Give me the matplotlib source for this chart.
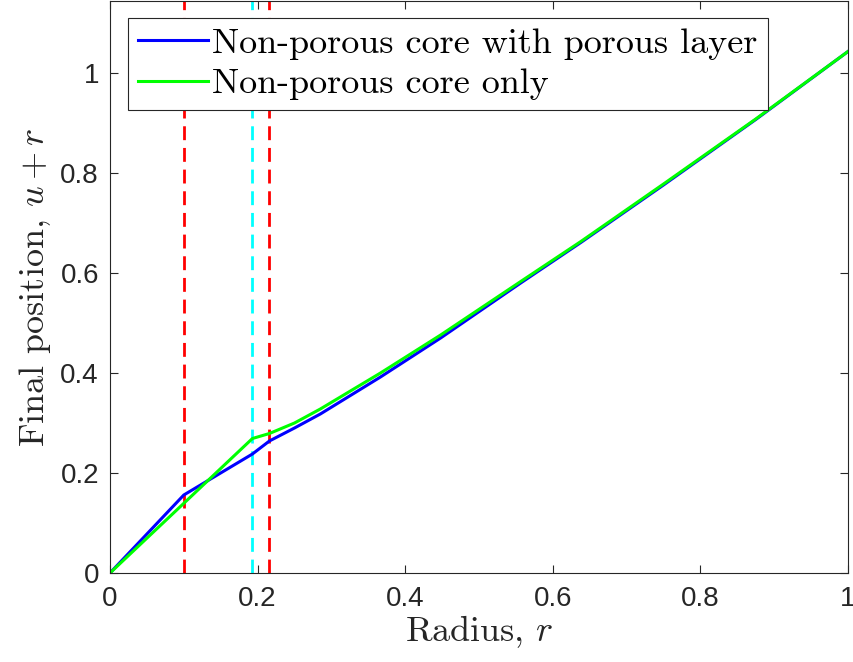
import numpy as np
import matplotlib
matplotlib.use('Agg')
import matplotlib.pyplot as plt

plt.rcParams['mathtext.fontset'] = 'cm'
plt.rcParams['font.family'] = ['Liberation Sans', 'DejaVu Sans']

# curve data
r_layer = [0, 0.1, 0.193, 0.216, 0.25, 0.285, 0.3665, 0.448, 0.5565, 0.638, 0.75, 0.875, 1.0]
pos_layer = [0, 0.156, 0.238, 0.264, 0.29, 0.318, 0.392, 0.470, 0.580, 0.661, 0.776, 0.907, 1.043]

r_core = [0, 0.193, 0.216, 0.25, 0.285, 0.3665, 0.448, 0.5565, 0.638, 0.75, 0.875, 1.0]
pos_core = [0, 0.269, 0.279, 0.30, 0.328, 0.400, 0.476, 0.583, 0.663, 0.778, 0.908, 1.043]

red_lines = [0.1, 0.216]
cyan_lines = [0.193]

xticks = [0, 0.2, 0.4, 0.6, 0.8, 1]
xticklabels = ['0', '0.2', '0.4', '0.6', '0.8', '1']
yticks = [0, 0.2, 0.4, 0.6, 0.8, 1]
yticklabels = ['0', '0.2', '0.4', '0.6', '0.8', '1']

fig = plt.figure(figsize=(8.54, 6.62), dpi=100)
ax = fig.add_axes([110/854, 89/662, 738/854, 572/662])

for xv in red_lines:
    ax.plot([xv, xv], [0, 1.2], '--', color=(1, 0, 0), lw=2.0, dashes=(5, 2.8))
for xv in cyan_lines:
    ax.plot([xv, xv], [0, 1.2], '--', color=(0, 1, 1), lw=2.0, dashes=(5, 2.8))

ax.plot(r_layer, pos_layer, color=(0, 0, 1), lw=2.2, label='Non-porous core with porous layer')
ax.plot(r_core, pos_core, color=(0, 1, 0), lw=2.2, label='Non-porous core only')

ax.set_xlim(0, 1)
ax.set_ylim(0, 1.144)
ax.set_xticks(xticks)
ax.set_xticklabels(xticklabels)
ax.set_yticks(yticks)
ax.set_yticklabels(yticklabels)
ax.tick_params(direction='in', length=6, width=0.8, top=True, right=True,
               labelsize=20, colors='#262626')
ax.tick_params(axis='x', pad=9)
ax.tick_params(axis='y', pad=8)
for s in ax.spines.values():
    s.set_color('#262626')
    s.set_linewidth(0.8)

ax.set_xlabel('Radius, $r$', fontfamily='cmr10', fontsize=26, color='#262626', labelpad=1)
ax.set_ylabel('Final position, $u+r$', fontfamily='cmr10', fontsize=26, color='#262626', labelpad=5)

leg = ax.legend(loc='upper left', bbox_to_anchor=(18/738, 1 - 17/572),
                prop={'family': 'cmr10', 'size': 26},
                fancybox=False, framealpha=1, edgecolor='#262626', handlelength=1.95,
                handletextpad=0.12, borderpad=0.27, labelspacing=0.22, borderaxespad=0)
leg.get_frame().set_linewidth(0.8)

fig.savefig('out.png', dpi=100)
